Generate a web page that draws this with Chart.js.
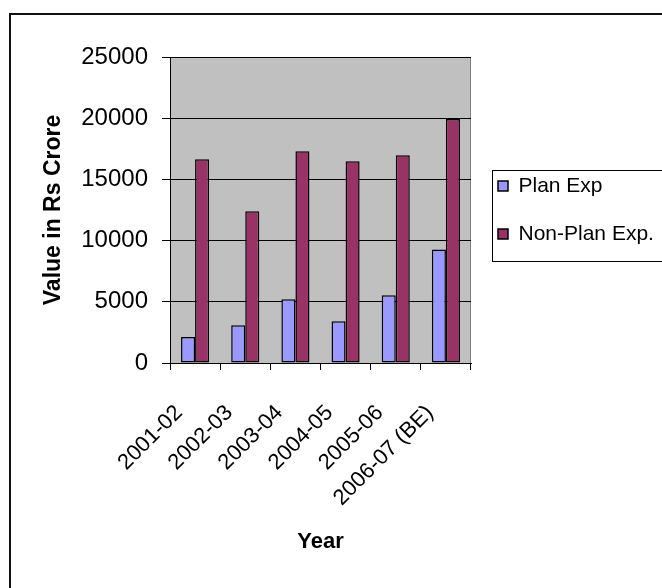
<!DOCTYPE html>
<html>
<head>
<meta charset="utf-8">
<title>Plan and Non-Plan Expenditure</title>
<script src="https://cdn.jsdelivr.net/npm/chart.js@4.4.1/dist/chart.umd.min.js"></script>
<style>
  html, body { margin: 0; padding: 0; background: #ffffff; }
  #wrap { width: 662px; height: 588px; }
</style>
</head>
<body>
<div id="wrap"><canvas id="chart" width="662" height="588"></canvas></div>
<script>
// Fiscal years (BE = budget estimate)
const years = ['2001-02', '2002-03', '2003-04', '2004-05', '2005-06', '2006-07 (BE)'];
// Expenditure, Rs crore
const planExp = [2130, 3090, 5210, 3410, 5540, 9280];
const nonPlanExp = [16650, 12390, 17300, 16490, 16980, 19930];
// Value axis
const yMin = 0;
const yMax = 25000;
const yStep = 5000;

const FONT = "'Liberation Sans', Arial, sans-serif";

// Grey plot area with a thin grey frame, the outer chart frame and a box round the legend
const frames = {
  id: 'frames',
  beforeDraw(chart) {
    const { ctx, chartArea: a } = chart;
    ctx.save();
    ctx.fillStyle = '#ffffff';
    ctx.fillRect(0, 0, chart.width, chart.height);
    ctx.fillStyle = '#c0c0c0';
    ctx.fillRect(a.left, a.top, a.right - a.left, a.bottom - a.top);
    ctx.strokeStyle = '#808080';
    ctx.lineWidth = 1;
    ctx.strokeRect(a.left + 0.5, a.top + 0.5, a.right - a.left - 1, a.bottom - a.top);
    ctx.strokeStyle = '#111111';
    ctx.lineWidth = 2;
    ctx.strokeRect(10, 14, chart.width + 40, chart.height + 40);
    ctx.restore();
  },
  afterDraw(chart) {
    const lg = chart.legend;
    if (!lg || !lg.legendHitBoxes || !lg.legendHitBoxes.length) return;
    const hb = lg.legendHitBoxes;
    const first = hb[0], last = hb[hb.length - 1];
    const { ctx } = chart;
    ctx.save();
    ctx.strokeStyle = '#000000';
    ctx.lineWidth = 1;
    const x0 = Math.round(first.left - 6) + 0.5;
    const y0 = Math.round(first.top - 6) + 0.5;
    const y1 = Math.round(last.top + last.height + 16) + 0.5;
    ctx.strokeRect(x0, y0, chart.width + 20 - x0, y1 - y0);
    ctx.restore();
  }
};

new Chart(document.getElementById('chart'), {
  type: 'bar',
  data: {
    labels: years,
    datasets: [
      {
        label: 'Plan Exp',
        data: planExp,
        backgroundColor: '#9999ff',
        borderColor: '#000000',
        borderWidth: 1.5,
        borderSkipped: false,
        categoryPercentage: 0.56,
        barPercentage: 1.0
      },
      {
        label: 'Non-Plan Exp.',
        data: nonPlanExp,
        backgroundColor: '#993366',
        borderColor: '#000000',
        borderWidth: 1.5,
        borderSkipped: false,
        categoryPercentage: 0.56,
        barPercentage: 1.0
      }
    ]
  },
  options: {
    responsive: false,
    animation: false,
    devicePixelRatio: 1,
    layout: { padding: { top: 57, right: 1, bottom: 0, left: 0 } },
    plugins: {
      tooltip: { enabled: false },
      legend: {
        position: 'right',
        fullSize: false,
        maxWidth: 190,
        labels: {
          color: '#000000',
          font: { family: FONT, size: 21 },
          boxWidth: 10,
          boxHeight: 10,
          padding: 27
        }
      }
    },
    scales: {
      x: {
        offset: true,
        grid: {
          offset: true,
          drawOnChartArea: false,
          drawTicks: true,
          tickLength: 7,
          color: '#000000',
          lineWidth: 1
        },
        border: { color: '#000000', width: 1 },
        ticks: {
          color: '#000000',
          font: { family: FONT, size: 22 },
          minRotation: 45,
          maxRotation: 45,
          autoSkip: false,
          padding: 30,
          labelOffset: -16
        },
        title: {
          display: true,
          text: 'Year',
          color: '#000000',
          font: { family: FONT, size: 22, weight: 'bold' },
          padding: { top: 0, bottom: 33 }
        },
        afterFit(scale) { scale.height = 225; }
      },
      y: {
        min: yMin,
        max: yMax,
        grid: {
          color: '#000000',
          lineWidth: 1,
          tickLength: 8
        },
        border: { color: '#000000', width: 1 },
        ticks: {
          stepSize: yStep,
          color: '#000000',
          font: { family: FONT, size: 24 },
          padding: 14,
          callback: (v) => String(v)
        },
        title: {
          display: true,
          text: 'Value in Rs Crore',
          color: '#000000',
          font: { family: FONT, size: 23, weight: 'bold' },
          padding: { top: 40, bottom: 0 }
        },
        afterFit(scale) { scale.width = 170; }
      }
    }
  },
  plugins: [frames]
});
</script>
</body>
</html>
